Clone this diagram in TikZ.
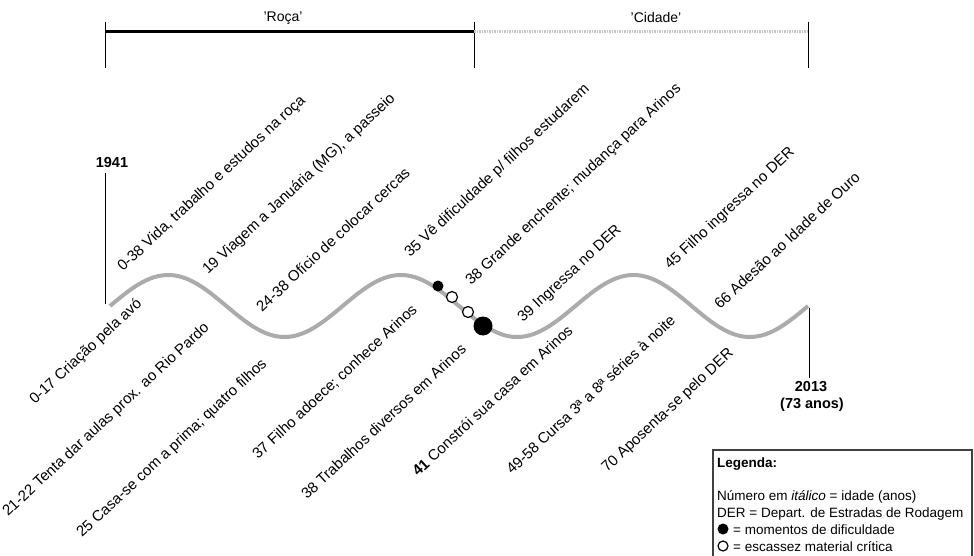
\documentclass[tikz,border=0pt]{standalone}
\usepackage{fontspec}
\setmainfont{Liberation Sans}
\begin{document}
\begin{tikzpicture}[x=1pt,y=-1pt,
  lbl/.style={font=\fontsize{15}{18}\selectfont, rotate=43, anchor=base west, inner sep=0pt},
  yr/.style={font=\fontsize{14.5}{17}\bfseries, inner sep=0pt},
  per/.style={font=\fontsize{14}{17}\selectfont, inner sep=0pt},
  leg/.style={font=\fontsize{13.5}{16}\selectfont, anchor=base west, inner sep=0pt},
  tick/.style={line width=1pt, black},
  wave/.style={line width=4pt, color=black!33},
  hard/.style={circle, fill=black, inner sep=0pt},
  scarce/.style={circle, draw=black, fill=white, line width=1.2pt, inner sep=0pt, minimum size=11pt}
]
\useasboundingbox (0,0) rectangle (974,556);

% top bar
\coordinate (t0a) at (105,22); \coordinate (t0b) at (105,68);
\coordinate (t1a) at (474,22); \coordinate (t1b) at (474,68);
\coordinate (t2a) at (808,22); \coordinate (t2b) at (808,68);
\draw[tick] (t0a) -- (t0b);
\draw[tick] (t1a) -- (t1b);
\draw[tick] (t2a) -- (t2b);
\coordinate (r0) at (105,32); \coordinate (r1) at (474,32); \coordinate (r2) at (808,32);
\draw[line width=3pt] (r0) -- (r1);
\draw[line width=3pt, black!22, dash pattern=on 1.5pt off 1pt] (r1) -- (r2);
\node[per] (roca) at (283,18) {'Roça'};
\node[per] (cidade) at (656,17) {'Cidade'};

% wave
\draw[wave] plot[domain=110:808, samples=240, smooth] (\x, {306-31*sin((\x-110)*1.54726)});

% start / end markers
\node[yr] (y1941) at (112,163) {1941};
\coordinate (s0) at (105,173); \coordinate (s1) at (105,304);
\draw[tick] (s0) -- (s1);
\coordinate (e0) at (809,308); \coordinate (e1) at (809,378);
\draw[line width=0.8pt] (e0) -- (e1);
\node[yr] (y2013) at (811,387) {2013};
\node[yr] (age) at (812,405) {(73 anos)};

% dots
\node[hard, minimum size=11pt] (d1) at (438,286) {};
\node[scarce] (d2) at (452,297) {};
\node[scarce] (d3) at (468,312) {};
\node[hard, minimum size=19pt] (d4) at (483,326) {};

% upper labels
\node[lbl] (l1) at (123,272) {0-38 Vida, trabalho e estudos na roça};
\node[lbl] (l2) at (208,275) {19 Viagem a Januária (MG), a passeio};
\node[lbl] (l3) at (262,313) {24-38 Ofício de colocar cercas};
\node[lbl] (l4) at (410,258) {35 Vê dificuldade p/ filhos estudarem};
\node[lbl] (l5) at (471,286) {38 Grande enchente; mudança para Arinos};
\node[lbl] (l6) at (523,323) {39 Ingressa no DER};
\node[lbl] (l7) at (670,270) {45 Filho ingressa no DER};
\node[lbl] (l8) at (720,310) {66 Adesão ao Idade de Ouro};

% lower labels
\node[lbl] (l9) at (35,405) {0-17 Criação pela avó};
\node[lbl] (l10) at (8,517) {21-22 Tenta dar aulas prox. ao Rio Pardo};
\node[lbl] (l11) at (82,538) {25 Casa-se com a prima; quatro filhos};
\node[lbl] (l12) at (258,460) {37 Filho adoece; conhece Arinos};
\node[lbl] (l13) at (307,500) {38 Trabalhos diversos em Arinos};
\node[lbl] (l14) at (418,477) {\textbf{41} Constrói sua casa em Arinos};
\node[lbl] (l15) at (512,475) {49-58 Cursa 3ª a 8ª séries à noite};
\node[lbl] (l16) at (607,473) {70 Aposenta-se pelo DER};

% legend
\coordinate (b0) at (713,560); \coordinate (b1) at (713,450);
\coordinate (b2) at (972,450); \coordinate (b3) at (972,560);
\draw[line width=1.5pt, black!75] (b0) -- (b1) -- (b2) -- (b3);
\node[leg, font=\fontsize{13.5}{16}\bfseries] (lg0) at (717,467) {Legenda:};
\node[leg] (lg1) at (717,500) {Número em \textit{itálico} = idade (anos)};
\node[leg] (lg2) at (717,517) {DER = Depart. de Estradas de Rodagem};
\node[hard, minimum size=11pt] (lgd1) at (723,529) {};
\node[leg] (lg3) at (733,534) {= momentos de dificuldade};
\node[scarce, minimum size=10pt] (lgd2) at (723,546) {};
\node[leg] (lg4) at (733,551) {= escassez material crítica};
\end{tikzpicture}
\end{document}
